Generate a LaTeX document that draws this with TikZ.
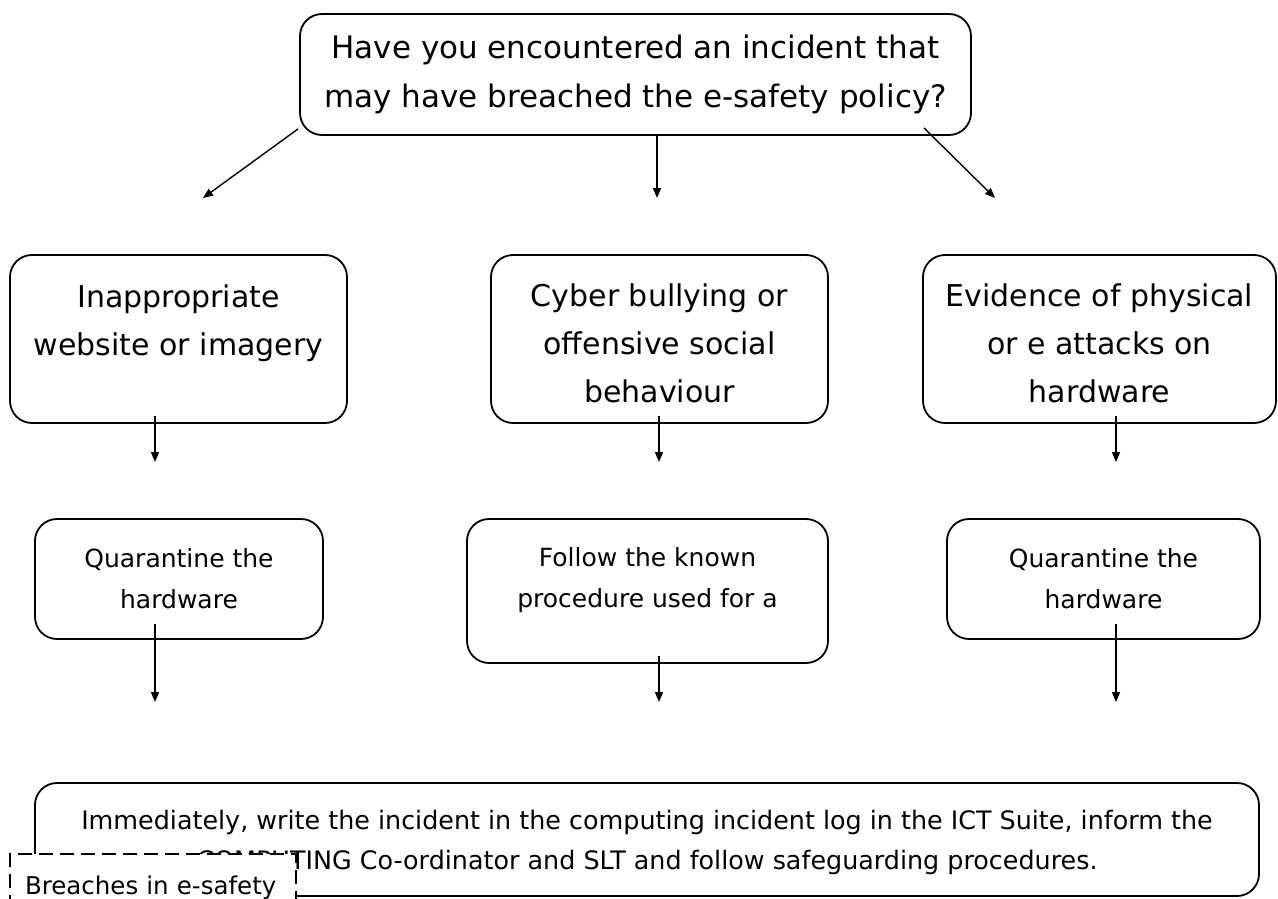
\documentclass[tikz,border=0pt]{standalone}
\usepackage{fontspec}
\setmainfont{DejaVu Sans}
\usetikzlibrary{arrows.meta}

% invisible rule that pads the first line of a box
\newcommand{\toppad}[1]{\rule{0pt}{#1}}

\tikzset{
  box/.style={draw, line width=1.8pt, rounded corners=22pt, align=center, inner sep=0pt},
  bigtext/.style={font=\fontsize{30}{48}\selectfont},
  smalltext/.style={font=\fontsize{25}{41}\selectfont},
  arr/.style={line width=1.4pt, -{Triangle[length=10pt,width=8pt]}},
}

\begin{document}
\begin{tikzpicture}[x=1pt,y=-1pt]
   \useasboundingbox (0,0) rectangle (1278,899);
   \clip (0,0) rectangle (1278,899);

   % question at the top
   \node[box, font=\fontsize{31}{49}\selectfont, minimum width=671, minimum height=121] (ask) at (635.5,74.5)
      {Have you encountered an incident that\\may have breached the e-safety policy?};

   % kinds of incident
   \node[box, bigtext, minimum width=337, minimum height=168] (web) at (178.5,339)
      {\toppad{32pt}Inappropriate\\website or imagery\\\mbox{}};
   \node[box, bigtext, minimum width=337, minimum height=168] (bully) at (659.5,339)
      {\toppad{32pt}Cyber bullying or\\offensive social\\behaviour};
   \node[box, bigtext, minimum width=353, minimum height=168] (attack) at (1099.5,339)
      {\toppad{32pt}Evidence of physical\\or e attacks on\\hardware};

   % first actions
   \node[box, smalltext, minimum width=288, minimum height=120] (quarL) at (179,579)
      {Quarantine the\\hardware};
   \node[box, smalltext, minimum width=361, minimum height=144] (follow) at (647.5,591)
      {\toppad{33pt}Follow the known\\procedure used for a\\\mbox{}};
   \node[box, smalltext, minimum width=313, minimum height=120] (quarR) at (1103.5,579)
      {Quarantine the\\hardware};

   % what to do next
   \node[box, font=\fontsize{25.4}{40}\selectfont, minimum width=1224, minimum height=113] (log) at (647,839.5)
      {\toppad{26pt}Immediately, write the incident in the computing incident log in the ICT Suite, inform the\\
       COMPUTING Co-ordinator and SLT and follow safeguarding procedures.};

   \node[draw, fill=white, line width=2pt, dash pattern=on 14pt off 7pt, anchor=north west,
         font=\fontsize{24.5}{40}\selectfont, align=left, text width=256, inner xsep=15pt, inner ysep=0pt,
         text height=40pt, text depth=40pt] (breach) at (9,853) {Breaches in e-safety};

   % free ends of the arrows
   \coordinate (toWeb) at (203,198);
   \coordinate (toBully) at (657,198);
   \coordinate (toAttack) at (995,198);
   \coordinate (toQuarL) at (155,462);
   \coordinate (toFollow) at (659,462);
   \coordinate (toQuarR) at (1116,462);
   \coordinate (logL) at (155,702);
   \coordinate (logM) at (659,702);
   \coordinate (logR) at (1116,702);

   \draw[arr] ([shift={(-1,-7)}]ask.south west) -- (toWeb);
   \draw[arr] ([xshift=21.5pt]ask.south) -- (toBully);
   \draw[arr] ([shift={(-48,-8)}]ask.south east) -- (toAttack);

   \draw[arr] ([shift={(-23.5,-8)}]web.south) -- (toQuarL);
   \draw[arr] ([shift={(-0.5,-8)}]bully.south) -- (toFollow);
   \draw[arr] ([shift={(16.5,-8)}]attack.south) -- (toQuarR);

   \draw[arr] ([shift={(-24,-16)}]quarL.south) -- (logL);
   \draw[arr] ([shift={(11.5,-8)}]follow.south) -- (logM);
   \draw[arr] ([shift={(12.5,-16)}]quarR.south) -- (logR);
\end{tikzpicture}
\end{document}
